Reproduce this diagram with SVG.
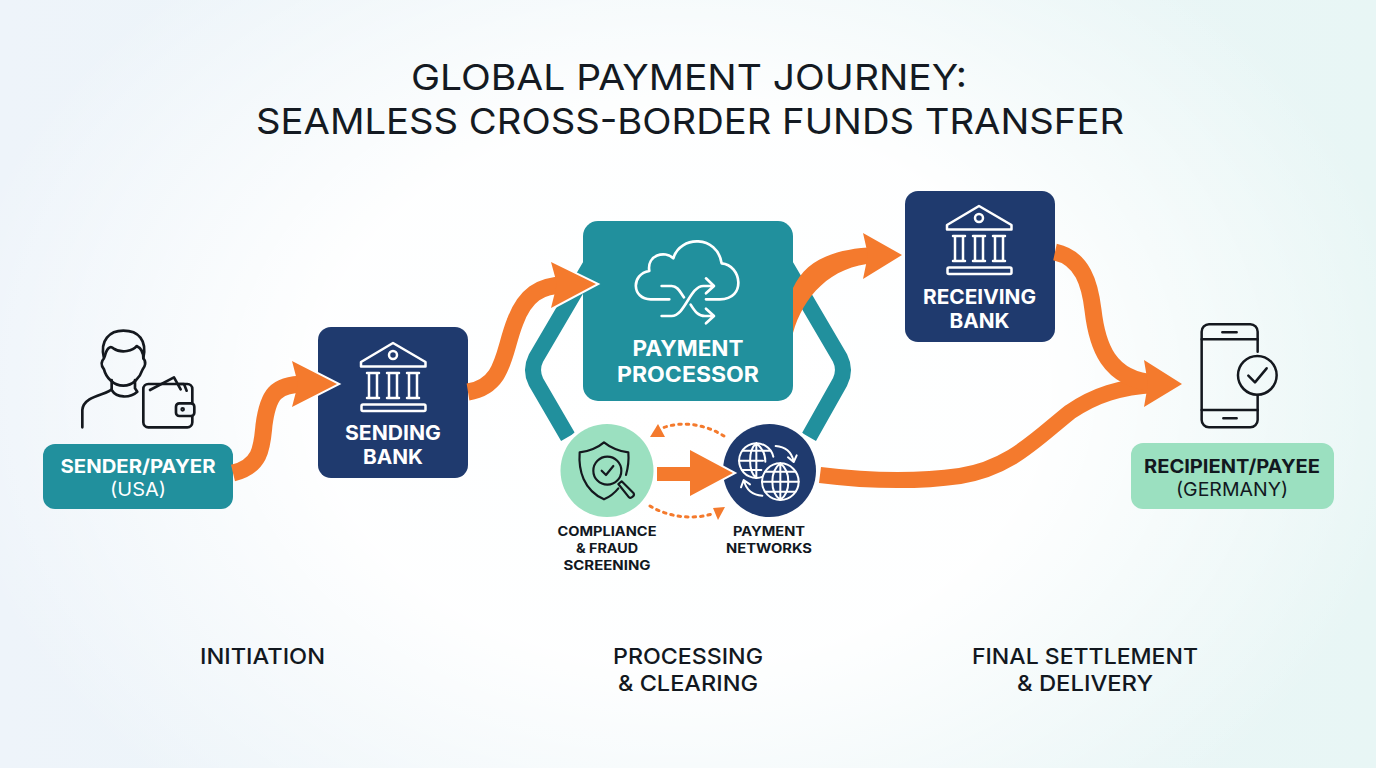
<svg xmlns="http://www.w3.org/2000/svg" width="1376" height="768" viewBox="0 0 1376 768">
<style>
text{font-family:Inter,"Open Sans","Liberation Sans",sans-serif;text-anchor:middle}
.title{font-size:36px;font-weight:400;fill:#141a22}
.w{fill:#fff;font-weight:700}
.k{fill:#12181f;font-weight:700}
.nl{font-size:19px}
.sm{font-size:13px;font-weight:700;fill:#12181f}
.ph{font-size:22px;font-weight:500;fill:#12181f}
.ol{fill:none;stroke:#14181e;stroke-linecap:round;stroke-linejoin:round}
.wl{fill:none;stroke:#fff;stroke-linecap:round;stroke-linejoin:round}
.sh{fill:none;stroke:#F47A2D;stroke-width:17}
.hd{fill:#F47A2D}
.ho{fill:#F47A2D;stroke:#fff;stroke-width:4;stroke-linejoin:miter}
.tl{fill:none;stroke:#21909D;stroke-width:16;stroke-linejoin:round}
.dot{fill:none;stroke:#F47A2D;stroke-width:3;stroke-dasharray:2.5 5;stroke-linecap:round}
</style>
<defs>
<linearGradient id="bg" x1="0" x2="1" y1="0" y2="0"><stop offset="0" stop-color="#EEF4FA"/><stop offset="1" stop-color="#E8F6F5"/></linearGradient>
<radialGradient id="glow" cx="680" cy="390" r="740" gradientUnits="userSpaceOnUse" gradientTransform="translate(680 390) scale(1 .75) translate(-680 -390)"><stop offset="0" stop-color="#fff"/><stop offset=".5" stop-color="#fff" stop-opacity=".95"/><stop offset="1" stop-color="#fff" stop-opacity="0"/></radialGradient>
<g id="bank" class="wl" stroke-width="2.500">
<path d="M393 343 L361 362 V366.500 H425.500 V362 Z"/><circle cx="393" cy="355" r="4"/>
<path d="M367 373 H379 M369 373 V398 M377 373 V398 M367 398 H379"/>
<path d="M387 373 H399 M389 373 V398 M397 373 V398 M387 398 H399"/>
<path d="M407 373 H419 M409 373 V398 M417 373 V398 M407 398 H419"/>
<rect x="361.500" y="404.500" width="64" height="6.500" rx="1.500"/>
</g>
</defs>
<rect width="1376" height="768" fill="url(#bg)"/>
<rect width="1376" height="768" fill="url(#glow)"/>

<text class="title" x="689" y="90" textLength="556" lengthAdjust="spacingAndGlyphs">GLOBAL PAYMENT JOURNEY:</text>
<text class="title" x="690" y="134" textLength="868" lengthAdjust="spacingAndGlyphs">SEAMLESS CROSS-BORDER FUNDS TRANSFER</text>

<g id="connectors-loop">
<path class="tl" d="M568 437 L536 382 Q530 370 536 358 L590 266"/>
<path class="tl" d="M809 437 L840 382 Q846 370 840 358 L786 266"/>
</g>

<g id="payment-processor">
<rect x="583" y="221" width="210" height="180" rx="15" fill="#21909D"/>
<g class="wl" stroke-width="8" transform="translate(520 200) scale(.3333)">
<path d="M448 298 H392 C335 298 332 222 388 213 C380 165 435 150 460 175 C480 105 592 105 605 190 C665 195 680 298 600 298 H558"/>
<path d="M425 258 H455 C475 258 482 280 492 292"/>
<path d="M425 348 H455 C495 348 510 258 550 258 H578 M558 235 L582 258 L558 280"/>
<path d="M512 314 C525 335 535 348 555 348 H580 M558 326 L582 348 L558 370"/>
</g>
<text class="w" x="688" y="356" font-size="21" textLength="111" lengthAdjust="spacingAndGlyphs">PAYMENT</text>
<text class="w" x="688" y="382" font-size="21" textLength="142" lengthAdjust="spacingAndGlyphs">PROCESSOR</text>
</g>

<g id="sender-payer">
<g class="ol" stroke-width="8" transform="translate(30 320) scale(.3333)">
<path d="M222 115 C208 60 240 32 280 32 C325 32 352 60 340 115 C350 125 345 140 338 148 C330 172 310 197 280 197 C250 197 228 172 222 148 C212 135 212 125 222 115 Z"/>
<path d="M224 110 C230 85 240 76 250 85 C275 102 310 92 320 78 C335 85 340 95 340 115"/>
<path d="M245 180 V207 C235 225 160 225 157 270 V322 M245 210 C260 235 300 235 322 215 L315 205 V180"/>
<rect x="340" y="192" width="147" height="130" rx="15"/>
<path d="M360 210 L432 172 L452 208 M445 192 H462 L470 212"/>
<rect x="438" y="250" width="55" height="38" rx="10" fill="#F1F6FA"/><circle cx="458" cy="268" r="3"/>
</g>
<rect x="43" y="444" width="190" height="65" rx="12" fill="#21909D"/>
<text class="w nl" x="138" y="473" textLength="155" lengthAdjust="spacingAndGlyphs">SENDER/PAYER</text>
<text class="w nl" x="138" y="496" style="font-weight:400" textLength="56" lengthAdjust="spacingAndGlyphs">(USA)</text>
</g>

<g id="sending-bank">
<rect x="318" y="327" width="150" height="151" rx="13" fill="#1F3A6E"/>
<use href="#bank"/>
<text class="w" x="393" y="440" font-size="20" textLength="96" lengthAdjust="spacingAndGlyphs">SENDING</text>
<text class="w" x="393" y="464" font-size="20" textLength="60" lengthAdjust="spacingAndGlyphs">BANK</text>
</g>

<g id="receiving-bank">
<rect x="905" y="191" width="150" height="151" rx="13" fill="#1F3A6E"/>
<use href="#bank" x="586" y="-137"/>
<text class="w" x="979.500" y="304" font-size="20" textLength="113" lengthAdjust="spacingAndGlyphs">RECEIVING</text>
<text class="w" x="979.500" y="328" font-size="20" textLength="60" lengthAdjust="spacingAndGlyphs">BANK</text>
</g>

<g id="compliance-fraud-screening">
<circle cx="607" cy="470.500" r="50" fill="#fff"/>
<circle cx="607" cy="470.500" r="46.500" fill="#9BE0C0"/>
<g class="ol" stroke-width="6.500" transform="translate(565 430) scale(.3333)">
<path d="M160 175 C148 190 135 200 117 208 C55 180 40 120 44 67 C70 65 100 52 117 37 C135 52 165 65 190 67 C192 90 190 110 183 135"/>
<circle cx="127" cy="122" r="42"/>
<path d="M110 122 L123 135 L145 108"/>
<path d="M160 162 L170 154 L206 190 C210 196 198 208 192 202 Z"/>
</g>
<text class="sm" x="607" y="536" textLength="99" lengthAdjust="spacingAndGlyphs">COMPLIANCE</text>
<text class="sm" x="607" y="553" textLength="62" lengthAdjust="spacingAndGlyphs">&amp; FRAUD</text>
<text class="sm" x="607" y="570" textLength="87" lengthAdjust="spacingAndGlyphs">SCREENING</text>
</g>

<g id="payment-networks">
<circle cx="769.500" cy="470.500" r="50" fill="#fff"/>
<circle cx="769.500" cy="470.500" r="46.500" fill="#1F3A6E"/>
<g class="wl" stroke-width="6" transform="translate(728 430) scale(.3333)">
<path fill="#1F3A6E" d="M105 140 A52 52 0 1 1 136 80"/>
<path d="M85 40 C60 60 60 125 85 144 M85 40 C105 55 112 75 112 95 M33 92 H105 M45 62 H125 M42 120 H100 M85 40 V144"/>
<circle cx="157" cy="155" r="55" fill="#1F3A6E"/>
<path d="M157 100 V210 M157 100 C125 125 125 185 157 210 M157 100 C189 125 189 185 157 210 M102 155 H212 M112 125 H202 M112 185 H202"/>
<path d="M143 48 C170 50 190 65 197 93 M180 82 L197 96 L206 76"/>
<path d="M103 197 C75 195 55 180 48 152 M39 172 L47 150 L66 163"/>
</g>
<text class="sm" x="769" y="536" textLength="72" lengthAdjust="spacingAndGlyphs">PAYMENT</text>
<text class="sm" x="769" y="553" textLength="86" lengthAdjust="spacingAndGlyphs">NETWORKS</text>
</g>

<g id="recipient-payee">
<g class="ol" stroke-width="7.500" transform="translate(1100 310) scale(.3333)">
<path d="M473 125 V65 A22 22 0 0 0 451 43 H327 A22 22 0 0 0 305 65 V330 A22 22 0 0 0 327 352 H451 A22 22 0 0 0 473 330 V255"/>
<path d="M305 88 H473 M305 300 H473 M367 67 H410 M370 325 H410"/>
<circle cx="472" cy="196" r="58"/>
<path d="M445 197 L465 217 L500 175"/>
</g>
<rect x="1131" y="443" width="203" height="66" rx="12" fill="#9BE0C0"/>
<text class="k nl" x="1232" y="473" textLength="176" lengthAdjust="spacingAndGlyphs">RECIPIENT/PAYEE</text>
<text class="k nl" x="1232" y="496" style="font-weight:400" textLength="112" lengthAdjust="spacingAndGlyphs">(GERMANY)</text>
</g>

<g id="connectors">
<path class="ho" d="M292 361 L337 384 L292 407 L298 384 Z"/>
<path class="sh" d="M233 473 C262 466 262 445 264 425 C268 395 275 384 305 384"/>
<path class="hd" d="M292 361 L337 384 L292 407 L298 384 Z"/>
<path class="ho" d="M551 262 L596 284 L551 308 L557 284 Z"/>
<path class="sh" d="M468 392 C505 386 503 352 515 322 C525 295 540 285 565 285"/>
<path class="hd" d="M551 262 L596 284 L551 308 L557 284 Z"/>
<path class="hd" d="M793 333 C803 297 830 266 875 263 L875 247 C830 249 805 262 793 288 Z"/>
<path class="hd" d="M863 233 L902 255 L863 279 L868 255 Z"/>
<path class="sh" d="M820 475 C860 480 910 483 960 476 C1010 468 1035 440 1070 412 C1095 395 1120 387 1155 385" style="stroke-width:16"/>
<path class="sh" d="M1055 252 C1083 258 1090 285 1093 310 C1097 345 1108 380 1155 383"/>
<path class="hd" d="M1144 360 L1182 384 L1144 407 L1148 384 Z"/>
<path class="ho" d="M690 450 L733 473 L690 496 Z"/>
<path class="hd" d="M657 467 H690 V450 L733 473 L690 496 V481 H657 Z"/>
<path class="dot" d="M724 436 C705 424 680 420 660 429"/>
<path class="hd" d="M650 437 L658 424 L665 437 Z"/>
<path class="dot" d="M650 506 C670 518 695 520 715 513"/>
<path class="hd" d="M713 508 L725 507 L718 520 Z"/>
</g>

<g id="phases">
<text class="ph" x="262.500" y="664" textLength="125" lengthAdjust="spacingAndGlyphs">INITIATION</text>
<text class="ph" x="688" y="664" textLength="150" lengthAdjust="spacingAndGlyphs">PROCESSING</text>
<text class="ph" x="688" y="691" textLength="140" lengthAdjust="spacingAndGlyphs">&amp; CLEARING</text>
<text class="ph" x="1085" y="664" textLength="226" lengthAdjust="spacingAndGlyphs">FINAL SETTLEMENT</text>
<text class="ph" x="1085" y="691" textLength="136" lengthAdjust="spacingAndGlyphs">&amp; DELIVERY</text>
</g>
</svg>
